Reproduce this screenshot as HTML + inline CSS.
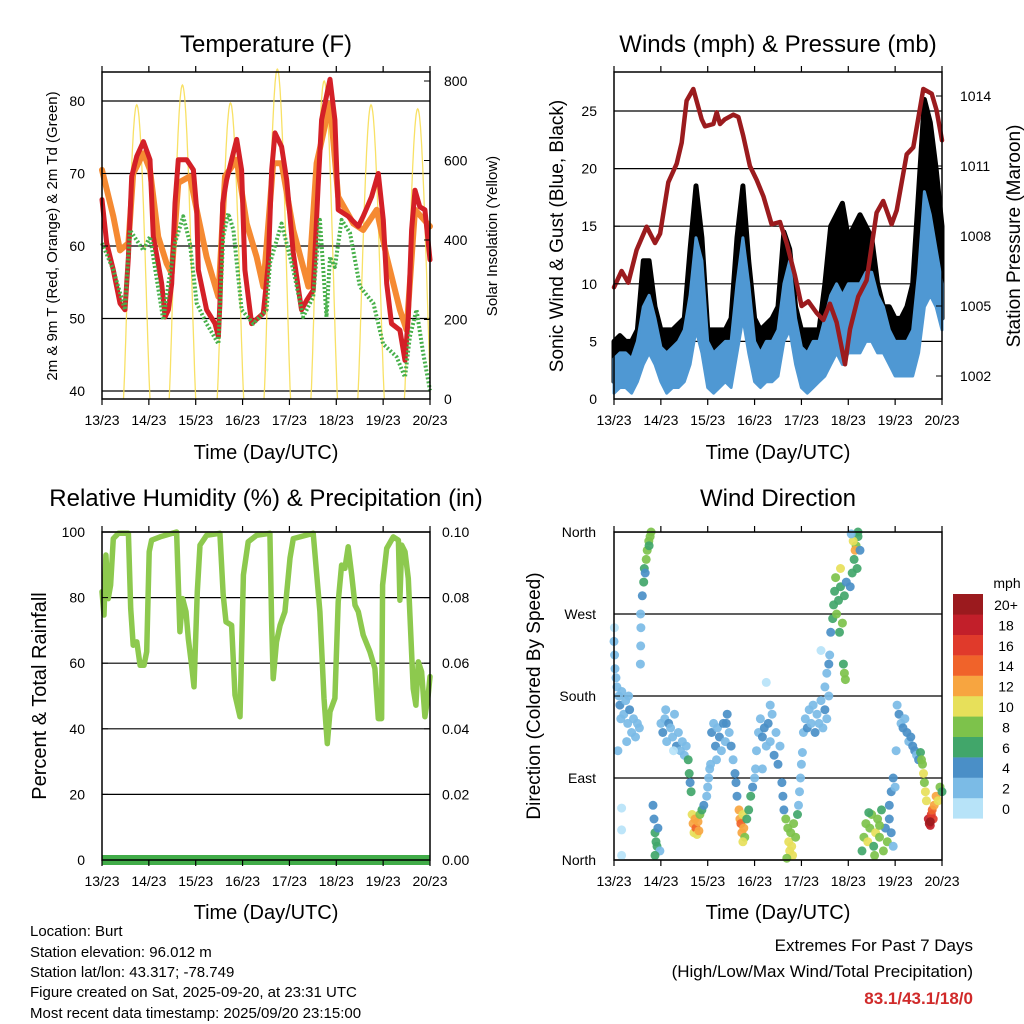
<!DOCTYPE html>
<html><head><meta charset="utf-8">
<style>
body{margin:0;background:#fff;}
svg{display:block;font-family:"Liberation Sans",sans-serif;}
</style></head>
<body>
<svg id="chart" width="1024" height="1024" viewBox="0 0 1024 1024" xmlns="http://www.w3.org/2000/svg">
<rect width="1024" height="1024" fill="#fff"/>
<text x="266" y="52" font-size="24" text-anchor="middle">Temperature (F)</text>
<text x="778" y="52" font-size="24" text-anchor="middle">Winds (mph) &amp; Pressure (mb)</text>
<text x="266" y="506" font-size="24" text-anchor="middle">Relative Humidity (%) &amp; Precipitation (in)</text>
<text x="778" y="506" font-size="24" text-anchor="middle">Wind Direction</text>
<text x="266" y="459" font-size="20" text-anchor="middle">Time (Day/UTC)</text>
<text x="778" y="459" font-size="20" text-anchor="middle">Time (Day/UTC)</text>
<text x="266" y="919" font-size="20" text-anchor="middle">Time (Day/UTC)</text>
<text x="778" y="919" font-size="20" text-anchor="middle">Time (Day/UTC)</text>
<text transform="translate(57,236) rotate(-90)" font-size="15" text-anchor="middle">2m &amp; 9m T (Red, Orange) &amp; 2m Td (Green)</text>
<text transform="translate(497,236) rotate(-90)" font-size="15" text-anchor="middle">Solar Insolation (Yellow)</text>
<text transform="translate(563,236) rotate(-90)" font-size="19" text-anchor="middle">Sonic Wind &amp; Gust (Blue, Black)</text>
<text transform="translate(1020,236) rotate(-90)" font-size="19" text-anchor="middle">Station Pressure (Maroon)</text>
<text transform="translate(46,696) rotate(-90)" font-size="20" text-anchor="middle">Percent &amp; Total Rainfall</text>
<text transform="translate(540,696) rotate(-90)" font-size="19" text-anchor="middle">Direction (Colored By Speed)</text>
<g font-size="15">
<text x="30" y="936">Location: Burt</text>
<text x="30" y="957">Station elevation: 96.012 m</text>
<text x="30" y="977">Station lat/lon: 43.317; -78.749</text>
<text x="30" y="997">Figure created on Sat, 2025-09-20, at 23:31 UTC</text>
<text x="30" y="1018">Most recent data timestamp: 2025/09/20 23:15:00</text>
</g>
<text x="973" y="951" font-size="17" text-anchor="end">Extremes For Past 7 Days</text>
<text x="973" y="977" font-size="17" text-anchor="end">(High/Low/Max Wind/Total Precipitation)</text>
<text x="973" y="1004" font-size="17" font-weight="bold" fill="#d02a2a" text-anchor="end">83.1/43.1/18/0</text>
<g id="layer"></g>
</svg>
<script>
const dayLabels = ["13/23","14/23","15/23","16/23","17/23","18/23","19/23","20/23"];
const tempTicks = [40,50,60,70,80];
const solarTicks = [0,200,400,600,800];
const windTicks = [0,5,10,15,20,25];
const pressTicks = [1002,1005,1008,1011,1014];
const rhTicks = [0,20,40,60,80,100];
const rainTicks = ["0.00","0.02","0.04","0.06","0.08","0.10"];
const dirTicks = ["North","East","South","West","North"];
const speedBins = ["0","2","4","6","8","10","12","14","16","18","20+"];
const speedColors = ["#b7e3f8","#7bbbe6","#4a8fc7","#41a66a","#7dc24b","#e7e05a","#f7a540","#f0632a","#e03a2b","#c21f2a","#9b1a1e"];

const redHours = [0,2.4,5.8,9.2,11.8,13.5,15.2,17.8,21.2,24.6,26.3,28.8,30.6,32.3,34,35.7,37.4,39.1,43.4,46.8,48.5,49.3,53.6,57.9,59.6,60.4,61.8,63.8,69,71.5,73.2,76.6,82.6,85.2,86.9,88.6,92,94.6,98,102.2,104.8,108.2,110.7,112.5,116.8,119.3,121,126.1,131.3,133.8,138.1,141.5,144.1,145.8,148.3,152.6,155.2,156.9,158.6,160.3,162.8,165.4,168];
const redTemps = [66.4,60.4,56.7,52.1,51.2,58.5,69.6,72.4,74.4,71.9,61.3,57.6,54.8,50.2,51.2,54.8,65.9,71.9,71.9,70.5,65,56.7,51.2,49.3,47.5,52.1,65.9,69.1,74.7,70.5,56.7,49.3,50.7,57.6,70.5,75.6,73.7,69.1,59,51.2,52.5,53.9,68.2,77.4,83,77.4,65,64.1,62.7,64.1,66.8,70,63.6,54.8,49.3,48.4,44.2,50.2,62.2,67.7,65.4,65,58.1];
const orangeHours = [0,5.8,9.2,13.5,16,21.2,24.6,28.8,33.1,35.7,39.1,45,48.5,53.6,59.6,63,69,74.1,79.2,82.6,87.7,92,98,105.7,109.9,116.8,121,128.7,133.8,140.7,145.8,152.6,156,160.3,168];
const orangeTemps = [70.5,64.1,59.4,60.4,70,72.8,70.5,61.3,57.6,56.2,68.7,69.6,65,58.5,53,69.6,71.9,63.1,58.5,54.4,71.4,71.4,62.2,54.4,71.4,79.7,66.8,63.1,62.2,65,58.5,51.2,48.4,65,62.7];
const dewHours = [0,5.8,11.8,14.3,21.2,24.6,31.4,34,37.4,41.6,45,48.5,53.6,59.6,62.1,64.7,67.3,71.5,77.5,84.3,86,92,98,103,108.2,111.6,115,116.8,119.3,122.7,127,132.1,139,144,150.9,155.2,157.7,161.1,164.5,168];
const dewTemps = [60.4,56.7,51.2,62.2,59.4,61.3,49.8,54.8,60.4,64.1,60.4,52.1,49.3,46.5,61.3,64.5,62.2,51.2,49.3,51.2,57.6,63.1,56.7,50.2,53,63.6,50.2,58.5,57.1,63.6,61.8,54.4,52.1,46.5,44.7,41.9,47.5,51.2,45.2,40.1];
const solarPeakHours = [17.8,41.2,65.8,89.8,113.8,137.8,161.7];
const solarPeaks = [740,790,745,830,800,740,730];
const solarHalfDay = 6.8;

const windHours = [0,3,6,9,12,15,18,21,24,27,30,33,36,39,42,45,48,51,54,57,60,63,66,69,72,75,78,81,84,87,90,93,96,99,102,105,108,111,114,117,120,123,126,129,132,135,138,141,144,147,150,153,156,159,162,165,168];
const windLow = [0.5,1,1,0.5,1.5,3,4,3,1.5,0.5,1,1,1.5,3,6,4,1,0.5,1,1.5,1,4,7,4,1.5,1,1.5,1.5,2,5,6,3,1,0.5,1,1.5,2,3,4,3,4,4,4,5,5,4,4,3,2,2,2,2,4,8,9,8,6];
const windHigh = [3.5,4,4,3.5,5,8,9,7,4.5,4,4.5,5,6,9,14,12,5,4,4.5,5,5,10,14,10,5,4,5,5,6,10,12,7,4.5,4,5,5,7,9,10,9,10,10,10,11,11,9,8,6,5,5,5,6,11,18,16,13,10];
const gustMax = [5,5.5,5,5,6,12,12,8,6,6,6,6.5,7,13,18.5,14,6,6,6,6,7,14,18.5,12,7,6,6.5,7,8,14.5,13,8,6,6,6,6,10,15,16,17,14,15,16,15,14,10,8,8,7,7,8,10,18,26,24,20,15];
const pressHours = [0,3.9,7.3,11.6,16.7,21,23.6,27.8,32.1,34.7,37.2,40.6,44.9,46.6,50.9,52.6,54.3,56.8,61.1,63.7,66.2,69.6,73.1,76.5,80.7,85,88.4,92.7,96.1,99.5,103.8,107.2,110.6,114,118.3,120.9,125.1,129.4,134.5,137.9,142.2,144.8,149.9,153.3,158.4,162.7,165.2,168];
const pressVals = [1005.8,1006.5,1006,1007.4,1008.4,1007.7,1008.1,1010.3,1011.1,1012,1013.8,1014.3,1013,1012.7,1012.8,1013.3,1012.8,1013,1013.2,1013.1,1012.3,1011,1010.4,1009.7,1008.5,1008.6,1007.7,1006.3,1005,1005.2,1004.7,1004.4,1005.1,1004.3,1002.5,1004,1005.4,1006.1,1009,1009.5,1008.5,1009.1,1011.5,1011.8,1014.3,1014.1,1013.4,1012.1];

const rhHours = [0,1,2,3.2,4.4,5.8,8.4,13.5,14.7,16,17.8,19.5,21.5,22.9,24.2,25.4,29.7,38.2,39.9,41.3,43,44.2,45.9,47.1,48.8,50.2,53.6,60.4,62.1,63.5,66.4,68.1,70.7,72.4,74.9,79.2,86,86.9,87.7,89.4,91.2,93.7,96.3,98,108.2,111.6,113.7,115.4,116.8,119.3,121,122.7,124.4,126.1,127.9,129.6,131.3,133.8,137.2,139.8,141.5,143.2,143.7,145.8,149.2,151.8,152.6,153.5,155.2,156.9,159.4,160.8,162,163.7,165.4,167.1,168];
const rhVals = [81.8,74.7,93,79.7,83.8,98,99.6,99.6,76.7,65.5,66.5,59.4,59.4,63.5,94,97.5,98.5,100,69.6,79.7,75.7,67.5,59.4,52.8,81.8,96,99,99.6,80.8,72.6,71.6,50.3,43.7,86.9,97,99,99.6,71.6,55.3,66.5,71.6,75.7,92,98,99.6,75.7,49.3,35.5,45.2,49.3,78.7,89.9,88.9,95.5,86.9,77.7,75.7,68.6,63.5,58.4,43.1,43.1,83.8,95,98.5,97.5,79.2,96,94,85.8,52.3,47.2,60.4,57.4,43.7,50.3,55.9];
const rainHours = [0,168];
const rainVals = [0,0];

const dirHours = [0,0.3,0.5,1,0.2, 1.5,2.5,3,4,5,6,7,8,9,10,11,12,13,3.5,7.5,2,6.5, 13.5,13.7,13.8,13.6, 14.5,15.2,15.5,16.5,17,17.8,18.5,19,16,18, 20,20.5,21,21.5,22,22.5,23.5,21, 3.9,3.9,3.9, 24,25,26,27,28,29,30,31,32,33,34,35,36,37,26.5,30.5, 38,38.5,39,39.5, 40,40.5,41,41.5,42,42.5,43,44,45,46,43.5, 47.5,48,48.5,49,49.5, 50,51,52,53,54,55,56,57,58,59,60,61,52.5,57.5, 62,62.5,63, 64,64.5,65,65.5,66,66.5,67,68,69,66, 70,71,72,72.5, 73,74,75,76,77,78,79,80,81,82,83,84,85,76,80,78, 86,86.5,87, 88,89,89.5,90,90.5,91,91.5,92,93,94,88.5, 94.5,95,95.5,96,96.5, 97,98,99,100,101,102,103,104,105,106,107,108,109,110, 108,109,110,110.5,106, 111,112,112.5,113,114,115,116,117,113.5,116,118,119,115.5, 117.5,118,118.5, 121,122,123,124,125,125,123.5,122.5,126,124.5,121.5, 127,128,129,130,131,132,133,134,135,136,137,138,139,140,141,142,143,133.5,136,130.5, 141,142,143,144, 145,146,147,148,149,150,151,152,153,154,155,156,144.5, 157,158,158.5,159,159.5,160,157.5, 161,161.5,162,162.5,163,164,165,166,167,168,163.5,162];
const dirDegrees = [240,225,210,200,255, 190,180,170,185,160,175,150,165,140,155,135,150,145,155,180,120,130, 215,235,255,270, 290,305,320,330,340,350,355,360,315,345, 60,45,30,20,15,35,10,5, 57,33,5, 150,140,155,130,150,145,135,160,125,140,120,130,115,125,165,120, 110,95,85,75, 50,40,30,45,35,28,42,50,55,60,32, 70,80,90,100,105, 140,150,125,145,135,120,150,130,160,140,125,110,110,150, 95,85,70, 55,45,40,30,50,35,25,45,55,20, 70,80,90,100, 120,140,155,135,145,125,150,130,160,115,140,105,125,100,170,195, 85,70,55, 45,35,20,10,30,15,5,40,25,50,2, 60,75,90,105,118, 140,155,145,165,150,170,140,160,150,175,145,165,155,180, 190,205,215,225,230, 250,265,280,295,270,285,300,260,310,320,290,305,250, 215,205,198, 300,315,330,345,355,360,340,350,340,320,358, 10,25,40,20,35,50,15,30,45,25,55,10,35,20,45,30,15,5,38,52, 60,75,90,80, 170,160,150,145,155,140,130,135,125,120,115,110,120, 118,105,95,85,75,65,110, 45,40,38,50,55,60,70,65,80,75,45,42];
const dirSpeeds = [1,1,2,2,0, 2,2,3,2,2,2,2,3,2,2,2,2,2,2,2,1,2, 1,2,2,1, 4,6,6,8,8,8,8,8,4,6, 4,4,6,6,6,4,2,6, 0,0,0, 2,4,2,2,4,2,2,2,4,2,2,2,2,2,2,0, 6,6,4,6, 10,12,10,12,14,10,12,8,6,4,12, 2,2,2,2,2, 4,2,4,2,4,2,4,2,4,2,4,2,2,4, 4,4,4, 12,12,14,12,10,12,8,6,6,10, 6,4,2,2, 2,2,2,4,4,2,4,2,2,4,2,4,2,2,2,0, 4,4,4, 8,8,10,10,8,10,10,8,8,6,8, 2,2,2,2,2, 2,2,4,2,2,2,4,2,2,2,2,4,2,2, 2,2,4,2,0, 4,6,6,6,8,6,6,8,8,10,6,4,6, 6,8,8, 4,6,6,8,6,6,12,10,4,6,2, 6,8,8,10,8,8,6,10,8,8,6,8,4,8,4,4,2,8,8,6, 4,4,4,2, 2,4,2,4,2,4,2,4,4,4,2,4,2, 6,8,10,8,10,10,8, 18,20,18,16,14,12,12,10,8,6,16,20];

const NS = "http://www.w3.org/2000/svg";
const layer = document.getElementById("layer");
function mk(tag, attrs, parent) {
  const e = document.createElementNS(NS, tag);
  for (const k in attrs) e.setAttribute(k, attrs[k]);
  (parent || layer).appendChild(e);
  return e;
}
function txt(x, y, s, size, anchor, parent) {
  const e = mk("text", {x: x, y: y, "font-size": size, "text-anchor": anchor}, parent);
  e.textContent = s;
  return e;
}
const H = 168;
function xL(h) { return 102 + h * 328 / H; }
function xR(h) { return 614 + h * 328 / H; }
function yT(t) { return 101 + (80 - t) * 7.25; }
function ySol(s) { return 399 - s * 0.3975; }
function yW(w) { return 399 - w * 11.52; }
function yP(p) { return 96 + (1014 - p) * 23.333; }
function yR(r) { return 860 - r * 3.28; }
function yRain(v) { return 860 - v * 3280; }
function yD(d) { return 860 - d * 0.911; }
function pts(hs, vs, fx, fy) { return hs.map((h, i) => fx(h).toFixed(1) + "," + fy(vs[i]).toFixed(1)).join(" "); }

function xAxis(y0, y1, fx, name) {
  const g = mk("g", {});
  
  
  dayLabels.forEach((lab, i) => {
    const x = fx(i * 24);
    mk("line", {x1: x, y1: y1, x2: x, y2: y1 + 6, stroke: "#000", "stroke-width": 1.2}, g);
    mk("line", {x1: x, y1: y0, x2: x, y2: y0 - 6, stroke: "#000", "stroke-width": 1.2}, g);
    const t = txt(x, y1 + 26, lab, 14, "middle", g);
    
    
  });
}
function frame(x, y, w, h, name) {
  const r = mk("rect", {x: x, y: y, width: w, height: h, fill: "none", stroke: "#000", "stroke-width": 1.5});
  
  
}
function hgrid(x1, x2, ys, name) {
  const g = mk("g", {});
  
  
  ys.forEach(y => mk("line", {x1: x1, x2: x2, y1: y, y2: y, stroke: "#000", "stroke-width": 1.2}, g));
}
function leftLabels(vals, labels, fy, x, x0, name) {
  vals.forEach((v, i) => {
    mk("line", {x1: x0, x2: x0 + 6, y1: fy(v), y2: fy(v), stroke: "#000"});
    const e = txt(x, fy(v) + 5, labels[i], 14, "end");
    
    
  });
}
function rightLabels(vals, labels, fy, x, x0, name) {
  vals.forEach((v, i) => {
    mk("line", {x1: x0, x2: x0 - 6, y1: fy(v), y2: fy(v), stroke: "#000"});
    const e = txt(x, fy(v) + 5, labels[i], 14, "start");
    
    
  });
}

// Temperature panel
hgrid(102, 430, tempTicks.map(yT), "temp-gridlines");
solarPeakHours.forEach((ph, i) => {
  const arr = [];
  for (let k = -24; k <= 24; k++) {
    const h = ph + k * solarHalfDay / 24;
    if (h < 0 || h > H) continue;
    const v = solarPeaks[i] * Math.pow(Math.cos(k / 24 * Math.PI / 2), 1.2);
    arr.push(xL(h).toFixed(1) + "," + ySol(v).toFixed(1));
  }
  const p = mk("polyline", {points: arr.join(" "), fill: "none", stroke: "#f7dc4a", "stroke-width": 1.3, opacity: 0.85});
  
  
});
const orangeLine = mk("polyline", {points: pts(orangeHours, orangeTemps, xL, yT), fill: "none", stroke: "#f58a32", "stroke-width": 6, "stroke-linejoin": "round", "stroke-linecap": "round"});


const redLine = mk("polyline", {points: pts(redHours, redTemps, xL, yT), fill: "none", stroke: "#d42027", "stroke-width": 5, "stroke-linejoin": "round", "stroke-linecap": "round"});


const dewLine = mk("polyline", {points: pts(dewHours, dewTemps, xL, yT), fill: "none", stroke: "#47b04a", "stroke-width": 4, "stroke-dasharray": "2 2", "stroke-linejoin": "round"});


frame(102, 72, 328, 327, "temperature-plot-frame");
xAxis(72, 399, xL, "temp-x-axis");
leftLabels(tempTicks, tempTicks.map(String), yT, 85, 102, "temp-y-tick-label");
rightLabels(solarTicks, solarTicks.map(String), ySol, 444, 430, "solar-y-tick-label");

// Wind panel
hgrid(614, 942, windTicks.slice(1).map(yW), "wind-gridlines");
const gustUp = windHours.map((h, i) => xR(h).toFixed(1) + "," + yW(gustMax[i]).toFixed(1));
const gustDn = windHours.map((h, i) => xR(h).toFixed(1) + "," + yW(windLow[i] + 1).toFixed(1)).reverse();
const gustArea = mk("polygon", {points: gustUp.concat(gustDn).join(" "), fill: "#000", stroke: "#000", "stroke-width": 5, "stroke-linejoin": "round"});


const bUp = windHours.map((h, i) => xR(h).toFixed(1) + "," + yW(windHigh[i]).toFixed(1));
const bDn = windHours.map((h, i) => xR(h).toFixed(1) + "," + yW(windLow[i]).toFixed(1)).reverse();
const windArea = mk("polygon", {points: bUp.concat(bDn).join(" "), fill: "#4f98d3", stroke: "#4f98d3", "stroke-width": 3, "stroke-linejoin": "round"});


const pressLine = mk("polyline", {points: pts(pressHours, pressVals, xR, yP), fill: "none", stroke: "#9b1b1e", "stroke-width": 4.5, "stroke-linejoin": "round", "stroke-linecap": "round"});


mk("rect", {x: 600, y: 400, width: 360, height: 12, fill: "#fff"});
frame(614, 72, 328, 327, "wind-plot-frame");
xAxis(72, 399, xR, "wind-x-axis");
leftLabels(windTicks, windTicks.map(String), yW, 597, 614, "wind-y-tick-label");
rightLabels(pressTicks, pressTicks.map(String), yP, 960, 942, "pressure-tick-label");

// RH panel
hgrid(102, 430, rhTicks.map(yR), "rh-gridlines");
const rhLine = mk("polyline", {points: pts(rhHours, rhVals, xL, yR), fill: "none", stroke: "#8dc94e", "stroke-width": 5.5, "stroke-linejoin": "round", "stroke-linecap": "round"});


const rainLine = mk("polyline", {points: pts(rainHours, rainVals, xL, yRain), fill: "none", stroke: "#41ac48", "stroke-width": 10});


frame(102, 532, 328, 328, "rh-plot-frame");
xAxis(532, 860, xL, "rh-x-axis");
leftLabels(rhTicks, rhTicks.map(String), yR, 85, 102, "rh-y-tick-label");
rightLabels(rhTicks.map(v => v / 1000), rainTicks, yRain, 442, 430, "rain-y-tick-label");

// Wind direction panel
hgrid(614, 942, [0, 90, 180, 270, 360].map(yD), "dir-gridlines");
const dg = mk("g", {});


dirHours.forEach((h, i) => {
  const bin = Math.min(10, Math.round(dirSpeeds[i] / 2));
  const c = mk("circle", {cx: xR(h).toFixed(1), cy: yD(dirDegrees[i]).toFixed(1), r: 4.5, fill: speedColors[bin], opacity: 0.92}, dg);
  
  
});
frame(614, 532, 328, 328, "dir-plot-frame");
xAxis(532, 860, xR, "dir-x-axis");
leftLabels([0, 90, 180, 270, 360], dirTicks, yD, 596, 614, "dir-y-tick-label");

// Colorbar
const cb = mk("g", {});


const mph = txt(1007, 588, "mph", 14, "middle", cb);


speedBins.forEach((lab, i) => {
  const y = 594 + (10 - i) * 20.4;
  const r = mk("rect", {x: 953, y: y, width: 30, height: 20.6, fill: speedColors[i]}, cb);
  
  
  const t = txt(1006, y + 16, lab, 14, "middle", cb);
  
  
});
</script>
</body></html>
